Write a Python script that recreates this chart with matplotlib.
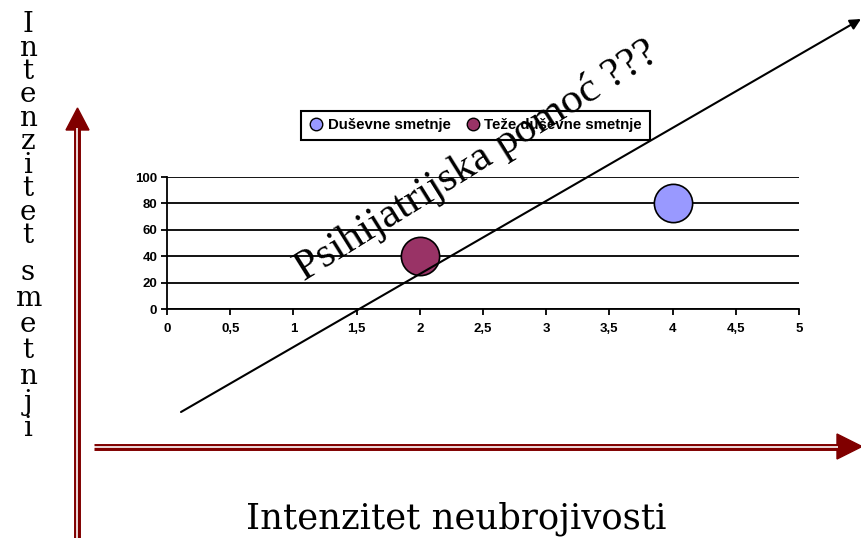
import matplotlib.pyplot as plt
from matplotlib.lines import Line2D

series_names = ['Duševne smetnje', 'Teže duševne smetnje']
x_vals = [4, 2]
y_vals = [80, 40]
colors = ['#9999FF', '#993366']
x_ticks = [0, 0.5, 1, 1.5, 2, 2.5, 3, 3.5, 4, 4.5, 5]
x_tick_labels = ['0', '0,5', '1', '1,5', '2', '2,5', '3', '3,5', '4', '4,5', '5']
y_ticks = [0, 20, 40, 60, 80, 100]
y_tick_labels = ['0', '20', '40', '60', '80', '100']

title_diag = 'Psihijatrijska pomoć ???'
x_label = 'Intenzitet neubrojivosti'
y_label_words = ['Intenzitet', 'smetnji']

W, H = 862, 538
dark_red = '#800000'
plt.rcParams['font.family'] = ['Liberation Sans', 'DejaVu Sans']

fig = plt.figure(figsize=(W / 100, H / 100), dpi=100)

# bubble chart
ax = fig.add_axes([167 / W, 1 - 309 / H, (799 - 167) / W, (309 - 177) / H])
for x, y, c in zip(x_vals, y_vals, colors):
    ax.scatter(x, y, s=760, c=c, edgecolors='black', linewidths=1.2, zorder=3, clip_on=False)
ax.set_xlim(0, 5)
ax.set_ylim(0, 100)
ax.set_xticks(x_ticks, x_tick_labels, fontweight='bold')
ax.set_yticks(y_ticks, y_tick_labels, fontweight='bold')
ax.tick_params(direction='out', length=4, width=1.3, labelsize=9.5, colors='black')
ax.tick_params(axis='x', pad=6)
ax.tick_params(axis='y', pad=3)
ax.grid(axis='y', color='black', linewidth=1.3)
ax.set_axisbelow(True)
for s in ['top', 'right']:
    ax.spines[s].set_visible(False)
for s in ['left', 'bottom']:
    ax.spines[s].set_linewidth(1.3)

handles = [Line2D([], [], ls='none', marker='o', ms=9, mfc=c, mec='black', mew=1) for c in colors]
leg = fig.legend(handles, series_names, loc='center', bbox_to_anchor=(475.5 / W, 1 - 125.5 / H),
                 ncol=2, fancybox=False, edgecolor='black', framealpha=1,
                 prop={'weight': 'bold', 'size': 10.8}, handlelength=1.0, handletextpad=0.25,
                 columnspacing=1.0, borderpad=0.5, borderaxespad=0)
leg.get_frame().set_linewidth(1.5)

# overlay in pixel coordinates for the drawn arrows and texts
ov = fig.add_axes([0, 0, 1, 1])
ov.set_zorder(10)
ov.set_xlim(0, W)
ov.set_ylim(H, 0)
ov.axis('off')
ov.patch.set_alpha(0)

ov.annotate('', xy=(861, 19), xytext=(181, 412),
            arrowprops=dict(arrowstyle='-|>', color='black', lw=1.5, mutation_scale=16,
                            shrinkA=0, shrinkB=0))

ov.plot([77.5, 77.5], [H, 128], color=dark_red, lw=5, solid_capstyle='butt')
ov.plot([77.5, 77.5], [H, 128], color='white', lw=1.2, solid_capstyle='butt')
ov.fill([66, 89, 77.5], [130, 130, 108], color=dark_red)

ov.plot([94, 838], [446.5, 446.5], color=dark_red, lw=5, solid_capstyle='butt')
ov.plot([94, 838], [446.5, 446.5], color='white', lw=1.2, solid_capstyle='butt')
ov.fill([837, 837, 862], [434, 459, 446.5], color=dark_red)

ov.text(304, 281, title_diag, rotation=32, rotation_mode='anchor', ha='left', va='baseline',
        fontsize=31, family='Liberation Serif')
ov.text(456, 528, x_label, ha='center', va='baseline', fontsize=25.5, family='DejaVu Serif')

# stacked letters of the vertical label, one word per text (anchored at last line)
ov.text(28, 243, '\n'.join(y_label_words[0]), ha='center', va='baseline', multialignment='center',
        linespacing=0.83, fontsize=20, family='DejaVu Serif')
ov.text(28, 436, '\n'.join(y_label_words[1]), ha='center', va='baseline', multialignment='center',
        linespacing=0.95, fontsize=20, family='DejaVu Serif')

fig.savefig('out.png', dpi=100)
